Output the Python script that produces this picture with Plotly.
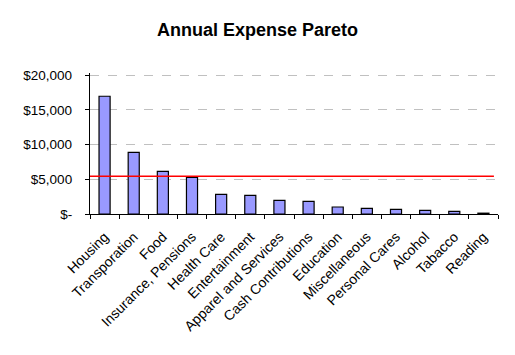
import plotly.graph_objects as go

categories = ["Housing", "Transporation", "Food", "Insurance, Pensions", "Health Care",
              "Entertainment", "Apparel and Services", "Cash Contributions", "Education",
              "Miscellaneous", "Personal Cares", "Alcohol", "Tabacco", "Reading"]
expenses = [16950, 8880, 6140, 5280, 2830, 2690, 1970, 1830, 1010, 820, 680, 530, 390, 120]
threshold = 5420
y_tick_vals = [0, 5000, 10000, 15000, 20000]
y_tick_text = ["$-", "$5,000", "$10,000", "$15,000", "$20,000"]

fig = go.Figure()
fig.add_trace(go.Bar(
    x=categories, y=expenses,
    marker=dict(color="#9999FF", line=dict(color="black", width=1.2)),
    width=0.38, showlegend=False,
))
fig.add_shape(type="line", xref="paper", yref="y", x0=0, x1=0.99,
              y0=threshold, y1=threshold, line=dict(color="#FF0000", width=1.5))

fig.update_layout(
    width=515, height=355,
    margin=dict(l=90, r=17, t=73, b=141),
    paper_bgcolor="white", plot_bgcolor="white",
    font=dict(family="Liberation Sans, Arial", size=13, color="black"),
    title=dict(text="<b>Annual Expense Pareto</b>", x=0.5, xanchor="center",
               y=0.915, yanchor="middle", font=dict(size=18, color="black")),
    bargap=0.62,
)
fig.update_xaxes(
    type="category", tickangle=-45, showline=True, linecolor="black", linewidth=1.3,
    ticks="outside", ticklen=4, tickcolor="black", tickson="boundaries",
    showgrid=False, range=[-0.5, 13.5], tickfont=dict(size=14),
    ticklabelstandoff=8,
)
fig.update_yaxes(
    range=[0, 20300], tickvals=y_tick_vals, ticktext=y_tick_text,
    showline=True, linecolor="black", linewidth=1.3,
    ticks="outside", ticklen=4, tickcolor="black",
    showgrid=True, gridcolor="#C0C0C0", griddash="dash", gridwidth=1,
    zeroline=False, tickfont=dict(size=13.5), ticklabelstandoff=10,
)

fig.write_html("out.html")
